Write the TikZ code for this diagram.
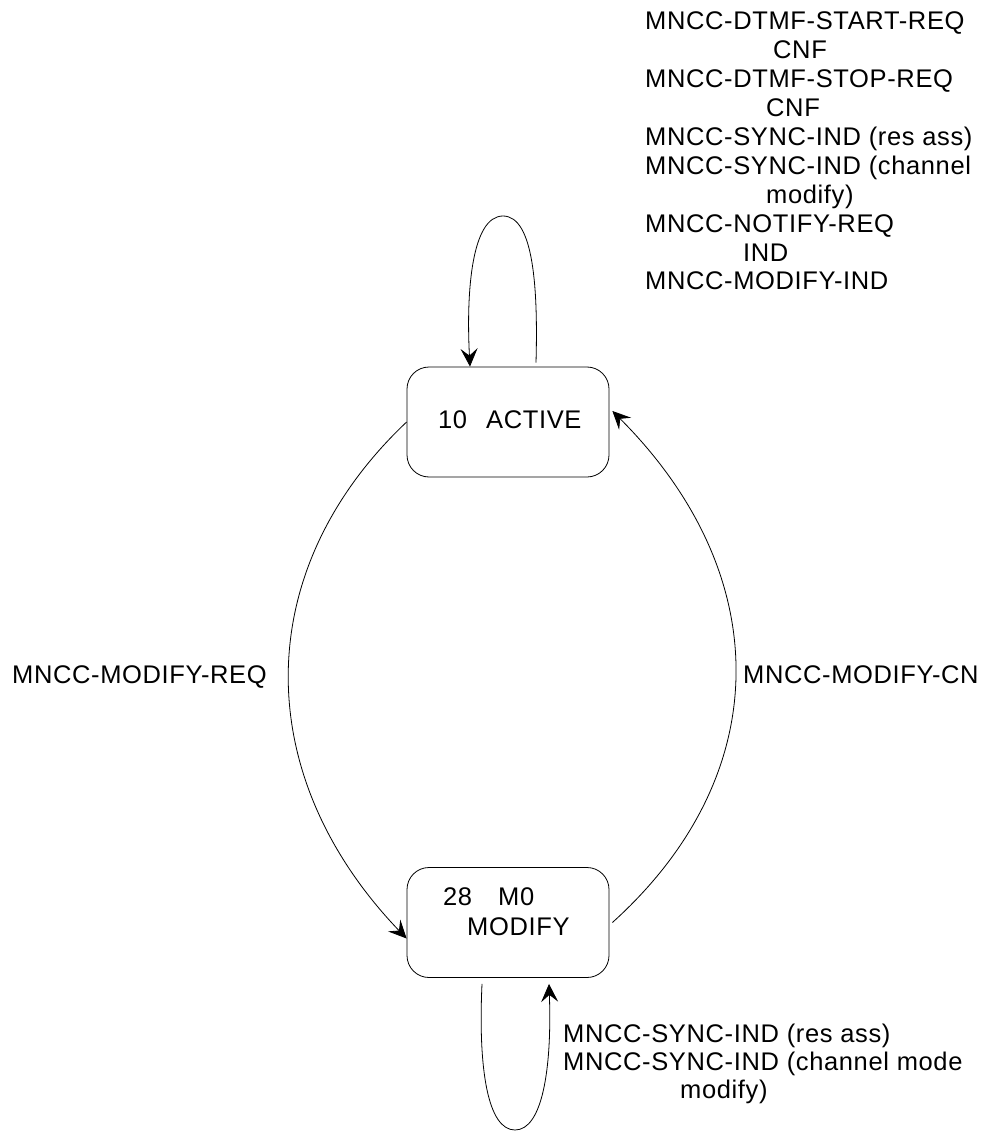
\documentclass[tikz,border=0pt]{standalone}
\usepackage{fontspec}
\setmainfont{Liberation Sans}[LetterSpace=2.5]
\usetikzlibrary{arrows.meta,calc}
\begin{document}
\begin{tikzpicture}[x=1pt,y=-1pt,
  state/.style={draw, line width=0.8pt, rounded corners=22pt, minimum width=202pt, minimum height=110pt, inner sep=0pt},
  lbl/.style={anchor=base west, inner sep=0pt, font=\fontsize{25.5pt}{29pt}\selectfont},
  conn/.style={line width=0.8pt},
  arr/.style={conn, -{Stealth[length=18pt,width=17pt,inset=7pt]}}]
\useasboundingbox (0,0) rectangle (985,1131);
% states
\node[state] (act) at (508,422) {};
\node[state] (mod) at (508,922.5) {};
\node[lbl] (acttxt) at (438,428) {10\hspace{19pt}ACTIVE};
\node[lbl] (modtxt1) at (443,905) {28\hspace{26pt}M0};
\node[lbl] (modtxt2) at (467,935) {MODIFY};
% top-right labels
\node[lbl] (t1) at (645,30) {MNCC-DTMF-START-REQ};
\node[lbl] (t2) at (773,59) {CNF};
\node[lbl] (t3) at (645,88) {MNCC-DTMF-STOP-REQ};
\node[lbl] (t4) at (766,117) {CNF};
\node[lbl] (t5) at (645,146) {MNCC-SYNC-IND (res ass)};
\node[lbl] (t6) at (645,175) {MNCC-SYNC-IND (channel};
\node[lbl] (t7) at (766,204) {modify)};
\node[lbl] (t8) at (645,233) {MNCC-NOTIFY-REQ};
\node[lbl] (t9) at (743,262) {IND};
\node[lbl] (t10) at (645,290) {MNCC-MODIFY-IND};
% side labels
\node[lbl] (req) at (12,683) {MNCC-MODIFY-REQ};
\node[lbl] (cnf) at (743,683) {MNCC-MODIFY-CN};
% bottom labels
\node[lbl] (b1) at (563,1042) {MNCC-SYNC-IND (res ass)};
\node[lbl] (b2) at (563,1070) {MNCC-SYNC-IND (channel mode};
\node[lbl] (b3) at (680,1098) {modify)};
% connectors
\draw[arr] ([xshift=28pt,yshift=4pt]act.north) .. controls (538,290) and (534,216) .. (503,216)
  .. controls (472,216) and (466,290) .. ([xshift=-38pt]act.north);
\draw[arr] (act.west) .. controls (250,570) and (250,775) .. ([yshift=-16pt]mod.west);
\draw[arr] ([xshift=3pt]mod.east) .. controls (776,775) and (776,575) .. ([xshift=3pt,yshift=11pt]act.east);
\draw[arr] ([xshift=-26pt,yshift=-6pt]mod.south) .. controls (478,1070) and (488,1130) .. (515,1130)
  .. controls (542,1130) and (552,1070) .. ([xshift=41pt,yshift=-6pt]mod.south);
\end{tikzpicture}
\end{document}
